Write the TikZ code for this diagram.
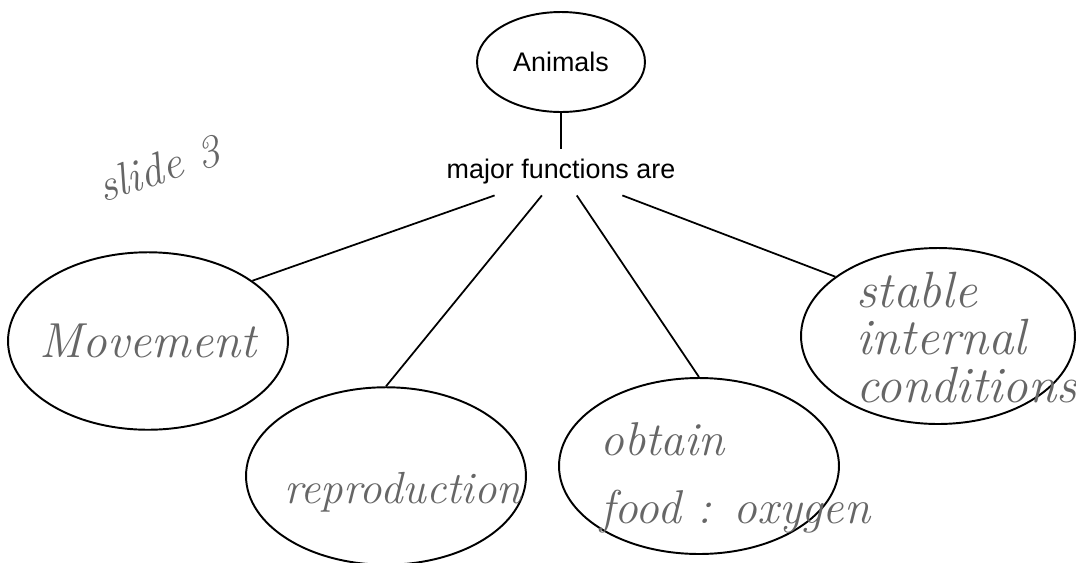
\documentclass[tikz,border=0pt]{standalone}
\usepackage{fontspec}
\usetikzlibrary{shapes.geometric}
\newfontfamily\labelfont{Liberation Sans}
\tikzset{
  bubble/.style={draw, ellipse, line width=1.1pt, minimum width=5.6cm, minimum height=3.55cm, inner sep=0pt},
  hand/.style={text=black!60, inner sep=0pt, align=left},
  link/.style={line width=1pt}
}
\begin{document}
\begin{tikzpicture}[x=0.02cm, y=-0.02cm]
\useasboundingbox (0,0) rectangle (1076,562);
%\small
\node[draw, ellipse, line width=1.1pt, minimum width=3.36cm, minimum height=2cm,
      font=\labelfont\fontsize{15.3pt}{18pt}\selectfont] (animals) at (561,62) {Animals};
\node[font=\labelfont\fontsize{15.3pt}{18pt}\selectfont, inner ysep=6pt] (major) at (561,172) {major functions are};
\node[bubble] (move) at (148,341) {};
\node[bubble] (repro) at (386,476) {};
\node[bubble, minimum height=3.52cm] (obtain) at (699,466) {};
\node[bubble, minimum width=5.48cm, minimum height=3.52cm] (stable) at (938,336) {};
\draw [link] (animals) -- (major);
\draw [link] (major) -- (move.30);
\draw [link] (major) -- (repro.north);
\draw [link] (major) -- (obtain.north);
\draw [link] (major) -- (stable.150);
% handwritten notes
\node[hand, rotate=18, anchor=base, font=\fontsize{26pt}{30pt}\selectfont\itshape] (slide) at (163,183) {slide 3};
\node[hand, anchor=base, font=\fontsize{28pt}{32pt}\selectfont\itshape] (movetxt) at (148,357) {Movement};
\node[hand, anchor=base, font=\fontsize{25.6pt}{30pt}\selectfont\itshape] (reprotxt) at (403,503) {reproduction};
\node[hand, anchor=base west, font=\fontsize{27pt}{38.7pt}\selectfont\itshape] (obtaintxt) at (600,523) {obtain\\food : oxygen};
\node[hand, anchor=base west, font=\fontsize{29pt}{27pt}\selectfont\itshape] (stabletxt) at (856,402) {stable\\internal\\conditions};
\end{tikzpicture}
\end{document}
